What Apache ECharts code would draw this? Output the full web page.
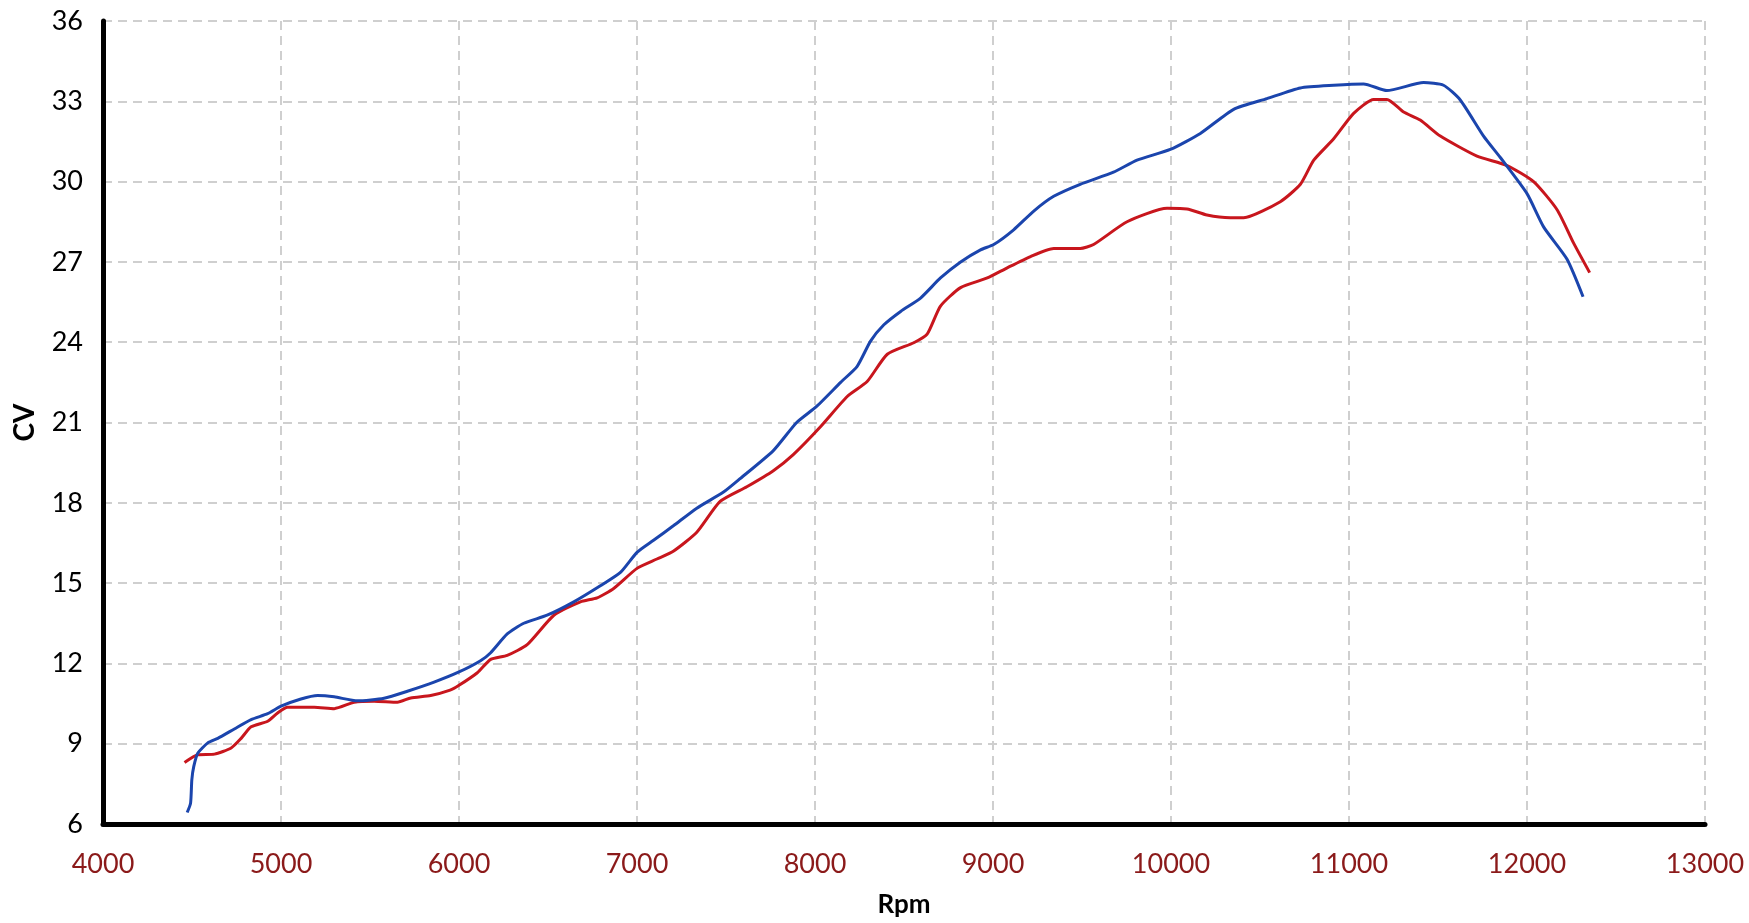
<!DOCTYPE html>
<html>
<head>
<meta charset="utf-8">
<script src="https://cdn.jsdelivr.net/npm/echarts@6/dist/echarts.min.js"></script>
<style>
  html, body { margin: 0; padding: 0; background: #fff; }
  #chart { width: 1749px; height: 923px; }
</style>
</head>
<body>
<div id="chart"></div>
<script>
// x ticks / y ticks
var rpmTicks = [4000, 5000, 6000, 7000, 8000, 9000, 10000, 11000, 12000, 13000];
var cvTicks = [6, 9, 12, 15, 18, 21, 24, 27, 30, 33, 36];

// blue run: [rpm, cv]
var blueRun = [
  [4473, 6.43], [4492, 6.78], [4499, 7.65], [4510, 8.15], [4533, 8.65], [4589, 9.03],
  [4645, 9.2], [4738, 9.55], [4832, 9.9], [4925, 10.12], [5000, 10.4], [5112, 10.67],
  [5206, 10.8], [5299, 10.75], [5430, 10.6], [5579, 10.7], [5710, 10.96], [5860, 11.3],
  [6000, 11.68], [6121, 12.1], [6178, 12.4], [6271, 13.1], [6364, 13.5], [6495, 13.8],
  [6645, 14.3], [6794, 14.9], [6907, 15.4], [7000, 16.15], [7093, 16.6], [7206, 17.15],
  [7336, 17.8], [7486, 18.4], [7579, 18.9], [7766, 19.95], [7897, 21.0], [8009, 21.6],
  [8144, 22.5], [8237, 23.1], [8312, 24.04], [8387, 24.65], [8481, 25.15], [8593, 25.65],
  [8705, 26.4], [8818, 27.0], [8930, 27.45], [9004, 27.65], [9116, 28.2], [9229, 28.9],
  [9341, 29.45], [9490, 29.9], [9677, 30.35], [9809, 30.8], [9996, 31.2], [10165, 31.8],
  [10352, 32.7], [10539, 33.1], [10727, 33.5], [10914, 33.6], [11082, 33.65], [11213, 33.4],
  [11419, 33.7], [11531, 33.6], [11625, 33.05], [11756, 31.7], [11850, 30.9], [12000, 29.55],
  [12094, 28.3], [12225, 27.1], [12315, 25.7]
];

// red run: [rpm, cv]
var redRun = [
  [4458, 8.3], [4533, 8.59], [4626, 8.61], [4720, 8.84], [4776, 9.2], [4832, 9.63],
  [4925, 9.84], [4981, 10.15], [5037, 10.36], [5187, 10.36], [5299, 10.31], [5411, 10.55],
  [5523, 10.59], [5654, 10.55], [5729, 10.71], [5841, 10.8], [5950, 11.0], [6000, 11.18],
  [6103, 11.65], [6178, 12.15], [6271, 12.3], [6383, 12.7], [6533, 13.8], [6682, 14.3],
  [6776, 14.45], [6869, 14.8], [7000, 15.55], [7112, 15.9], [7206, 16.2], [7336, 16.9],
  [7467, 18.05], [7617, 18.6], [7766, 19.2], [7878, 19.8], [8032, 20.85], [8181, 21.97],
  [8293, 22.53], [8406, 23.55], [8555, 23.98], [8630, 24.3], [8705, 25.35], [8818, 26.04],
  [8968, 26.4], [9080, 26.78], [9211, 27.2], [9341, 27.5], [9490, 27.5], [9565, 27.65],
  [9753, 28.5], [9978, 29.0], [10090, 28.98], [10202, 28.75], [10333, 28.65], [10408, 28.65],
  [10614, 29.25], [10727, 29.9], [10802, 30.8], [10914, 31.6], [11026, 32.55], [11139, 33.07],
  [11213, 33.07], [11307, 32.6], [11400, 32.3], [11513, 31.7], [11719, 30.95], [11888, 30.6],
  [12037, 30.0], [12169, 28.95], [12262, 27.7], [12352, 26.6]
];

var chart = echarts.init(document.getElementById('chart'));
var gridLine = { show: true, lineStyle: { color: '#cfcfcf', width: 2, type: [9, 6] } };

var option = {
  animation: false,
  backgroundColor: '#fff',
  grid: { left: 103, right: 44, top: 21, bottom: 99, outerBoundsMode: 'none', containLabel: false },
  xAxis: {
    type: 'value',
    min: rpmTicks[0],
    max: rpmTicks[rpmTicks.length - 1],
    interval: 1000,
    name: 'Rpm',
    nameLocation: 'middle',
    nameGap: 68,
    nameTextStyle: { fontFamily: 'Lato', fontWeight: 'bold', fontSize: 26, color: '#000' },
    axisLine: { show: true, onZero: false, lineStyle: { color: '#000', width: 5 } },
    axisTick: { show: false },
    axisLabel: {
      fontFamily: 'Lato', fontSize: 27, color: '#8b1a1a', margin: 27,
      formatter: function (v) { return String(v); }
    },
    splitLine: gridLine
  },
  yAxis: {
    type: 'value',
    min: cvTicks[0],
    max: cvTicks[cvTicks.length - 1],
    interval: 3,
    name: 'CV',
    nameLocation: 'middle',
    nameGap: 64,
    nameRotate: 90,
    nameTextStyle: { fontFamily: 'Lato', fontWeight: 'bold', fontSize: 28, color: '#000' },
    axisLine: { show: true, lineStyle: { color: '#000', width: 5 } },
    axisTick: { show: false },
    axisLabel: {
      fontFamily: 'Lato', fontSize: 27, color: '#000', margin: 20,
      formatter: function (v) { return String(v); }
    },
    splitLine: gridLine
  },
  series: [
    {
      name: 'red', type: 'line', data: redRun, showSymbol: false, smooth: 0.2,
      lineStyle: { color: '#c8161d', width: 3 }, z: 3
    },
    {
      name: 'blue', type: 'line', data: blueRun, showSymbol: false, smooth: 0.2,
      lineStyle: { color: '#1b45ad', width: 3 }, z: 4
    }
  ]
};

chart.setOption(option);
</script>
</body>
</html>
